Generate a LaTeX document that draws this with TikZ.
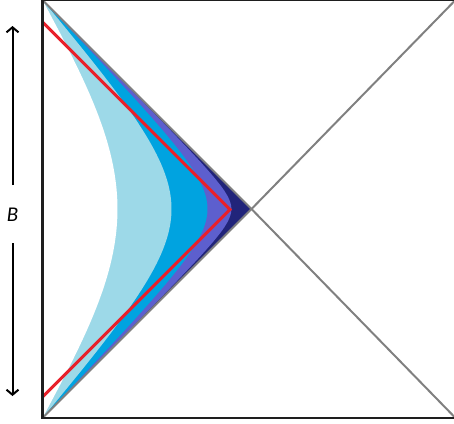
\documentclass[tikz,border=0pt]{standalone}
\usepackage{fontspec}
\setmainfont{Carlito}
\usetikzlibrary{arrows.meta}
\definecolor{navyc}{RGB}{33,36,122}
\definecolor{purplec}{RGB}{93,95,206}
\definecolor{brightc}{RGB}{0,163,224}
\definecolor{lightc}{RGB}{157,217,232}
\definecolor{redc}{RGB}{232,32,42}
\definecolor{grayc}{RGB}{128,128,128}
\definecolor{framec}{RGB}{30,30,30}
\begin{document}
\begin{tikzpicture}[x=1pt,y=-1pt,
  framestyle/.style={draw=framec,line width=2.2pt},
  diag/.style={draw=grayc,line width=2pt},
  redline/.style={draw=redc,line width=3pt,line join=miter},
  barrow/.style={draw=black,line width=2pt,-{Straight Barb[length=5pt,width=12pt,line width=2pt]}},
  lbl/.style={font=\fontsize{21}{24}\selectfont\itshape,inner sep=0pt}]
\useasboundingbox (0,0) rectangle (454,423);
\clip (0,0) rectangle (454,423);
\coordinate (tl) at (42.5,0);
\coordinate (bl) at (42.5,418);
\coordinate (v) at (251.5,209);
\coordinate (tr) at (455.5,0);
\coordinate (br) at (455.5,418);
\coordinate (r1) at (42.5,22);
\coordinate (r2) at (230,209.5);
\coordinate (r3) at (42.5,397);
% nested regions
\fill[navyc] (tl) -- (v) -- (bl) -- cycle;
\fill[purplec] plot[domain=-90:90,samples=150] ({42.5+asin(cos(\x)/1.01145)/90*209},{209+\x/90*209}) -- cycle;
\fill[brightc] plot[domain=-90:90,samples=150] ({42.5+asin(cos(\x)/1.0573)/90*209},{209+\x/90*209}) -- cycle;
\fill[lightc] plot[domain=-90:90,samples=150] ({42.5+asin(cos(\x)/1.2126)/90*209},{209+\x/90*209}) -- cycle;
\fill[white] plot[domain=-90:90,samples=150] ({42.5+asin(cos(\x)/1.872)/90*209},{209+\x/90*209}) -- cycle;
% diagonals
\draw[diag] (tl) -- (v) -- (br);
\draw[diag] (bl) -- (v) -- (tr);
% red line
\draw[redline] (r1) -- (r2) -- (r3);
% frame
\draw[framestyle] (460,0) -- (tl) -- (bl) -- (460,418);
% B arrow
\node[lbl] (B) at (12.5,215) {B};
\coordinate (a1) at (12.5,26);
\coordinate (a2) at (12.5,185);
\coordinate (a3) at (12.5,243);
\coordinate (a4) at (12.5,396);
\draw[barrow] (a2) -- (a1);
\draw[barrow] (a3) -- (a4);
\end{tikzpicture}
\end{document}
